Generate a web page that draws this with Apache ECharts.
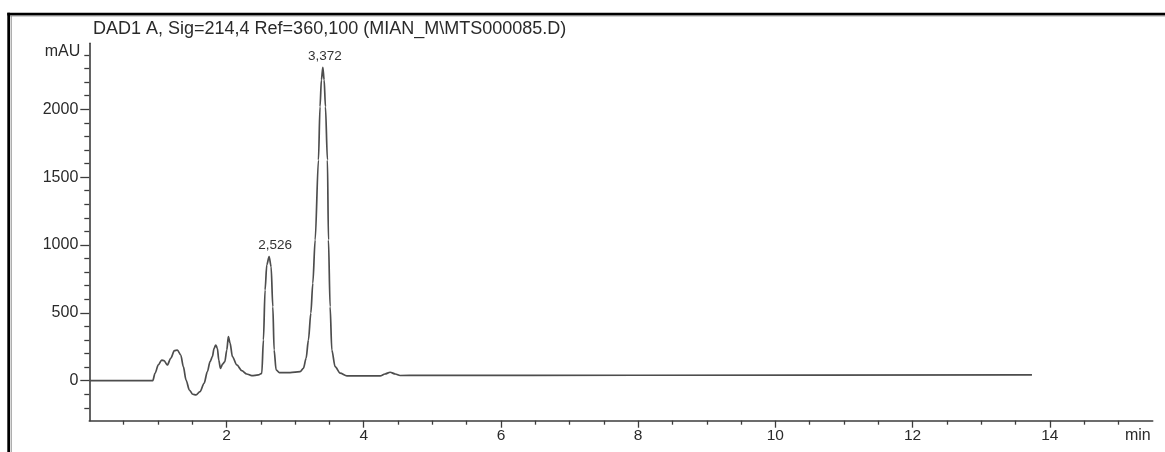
<!DOCTYPE html>
<html>
<head>
<meta charset="utf-8">
<script src="https://cdn.jsdelivr.net/npm/echarts@6/dist/echarts.min.js"></script>
<style>
html,body{margin:0;padding:0;background:#fff;}
#chart{width:1165px;height:452px;}
</style>
</head>
<body>
<div id="chart"></div>
<script>
// Retention time (min) and detector signal (mAU)
const times = [0, 0.925, 0.958, 1.006, 1.056, 1.089, 1.138, 1.187, 1.240, 1.284, 1.333, 1.371, 1.410, 1.459, 1.508, 1.556, 1.614, 1.673, 1.721, 1.760, 1.794, 1.819, 1.843, 1.867, 1.887, 1.911, 1.945, 1.975, 2.004, 2.027, 2.052, 2.086, 2.150, 2.222, 2.295, 2.368, 2.465, 2.514, 2.538, 2.562, 2.587, 2.621, 2.650, 2.675, 2.694, 2.723, 2.771, 2.927, 3.073, 3.121, 3.160, 3.194, 3.229, 3.258, 3.292, 3.340, 3.363, 3.383, 3.404, 3.423, 3.442, 3.471, 3.486, 3.510, 3.535, 3.583, 3.656, 3.754, 4.24, 4.31, 4.385, 4.46, 4.53, 4.8, 8, 13.74];
const signal = [0, 0, 54, 116, 152, 147, 116, 165, 221, 226, 189, 103, 5, -69, -100, -105, -81, -19, 66, 140, 177, 239, 263, 239, 152, 91, 123, 140, 226, 324, 276, 177, 116, 74, 49, 37, 42, 54, 300, 668, 853, 914, 840, 545, 226, 79, 59, 59, 66, 91, 165, 300, 497, 718, 1037, 1626, 2019, 2216, 2309, 2216, 2019, 1626, 1037, 545, 226, 103, 55, 35, 35, 49, 62, 49, 38, 39, 40, 42];

const titleText = 'DAD1 A, Sig=214,4 Ref=360,100 (MIAN_M\\MTS000085.D)';
const xMajorTicks = [2, 4, 6, 8, 10, 12, 14];
const xMinorTicks = [0.5, 1, 1.5, 2.5, 3, 3.5, 4.5, 5, 5.5, 6.5, 7, 7.5, 8.5, 9, 9.5, 10.5, 11, 11.5, 12.5, 13, 13.5, 14.5, 15];
const yMajorTicks = [0, 500, 1000, 1500, 2000];
const yMinorTicks = [-200, -100, 100, 200, 300, 400, 600, 700, 800, 900, 1100, 1200, 1300, 1400, 1600, 1700, 1800, 1900, 2100, 2200, 2300, 2400];
const peakLabels = ['2,526', '3,372'];
const peakWindows = [[2.4, 2.8], [3.2, 3.6]];

function apexIn(lo, hi) {
  let best = -1;
  for (let i = 0; i < times.length; i++) {
    if (times[i] >= lo && times[i] <= hi && (best < 0 || signal[i] > signal[best])) best = i;
  }
  return best;
}

const seriesData = times.map((t, i) => [t, signal[i]]);
const labelOffsets = [[6, 0], [2, 0]];
const peakMarks = peakWindows.map((w, k) => {
  const i = apexIn(w[0], w[1]);
  return { name: peakLabels[k], coord: [times[i], signal[i]], label: { offset: labelOffsets[k] } };
});

const axisColor = '#3c3c3c';
const textColor = '#2a2a2a';
const font = 'Liberation Sans, Arial, sans-serif';
const X_MIN = 0, X_MAX = 15.5, Y_MIN = -295, Y_MAX = 2486;
const plain = v => String(v);

const chart = echarts.init(document.getElementById('chart'), null, { renderer: 'canvas' });
chart.setOption({
  animation: false,
  backgroundColor: '#fff',
  title: {
    text: titleText,
    left: 88,
    top: 15,
    textStyle: { fontFamily: font, fontSize: 18, fontWeight: 'normal', color: textColor }
  },
  grid: { left: 89.3, right: 12.3, top: 43.3, bottom: 31.3 },
  xAxis: [{
    type: 'value', min: X_MIN, max: X_MAX,
    name: 'min', nameLocation: 'end', nameGap: 0,
    nameTextStyle: { fontFamily: font, fontSize: 16, color: textColor, align: 'right', verticalAlign: 'top', padding: [7, 2, 0, 0] },
    axisLine: { show: true, onZero: false, lineStyle: { color: axisColor, width: 1.6 } },
    axisTick: { show: true, length: 7, customValues: xMajorTicks, lineStyle: { color: axisColor, width: 1.3 } },
    axisLabel: { show: true, customValues: xMajorTicks, formatter: plain, margin: 7, fontFamily: font, fontSize: 15.5, color: textColor },
    splitLine: { show: false }
  }, {
    type: 'value', min: X_MIN, max: X_MAX, position: 'bottom',
    axisLine: { show: false, onZero: false },
    axisTick: { show: true, length: 4, customValues: xMinorTicks, lineStyle: { color: axisColor, width: 1.3 } },
    axisLabel: { show: false },
    splitLine: { show: false }
  }],
  yAxis: [{
    type: 'value', min: Y_MIN, max: Y_MAX,
    name: 'mAU', nameLocation: 'end', nameGap: -8,
    nameTextStyle: { fontFamily: font, fontSize: 16, color: textColor, align: 'right', verticalAlign: 'middle', padding: [0, 9, 0, 0] },
    axisLine: { show: true, onZero: false, lineStyle: { color: axisColor, width: 1.6 } },
    axisTick: { show: true, length: 9, customValues: yMajorTicks, lineStyle: { color: axisColor, width: 1.3 } },
    axisLabel: { show: true, customValues: yMajorTicks, formatter: plain, margin: 11, fontFamily: font, fontSize: 16, color: textColor },
    splitLine: { show: false }
  }, {
    type: 'value', min: Y_MIN, max: Y_MAX, position: 'left',
    axisLine: { show: false, onZero: false },
    axisTick: { show: true, length: 5, customValues: yMinorTicks, lineStyle: { color: axisColor, width: 1.3 } },
    axisLabel: { show: false },
    splitLine: { show: false }
  }],
  series: [{
    type: 'line',
    xAxisIndex: 0, yAxisIndex: 0,
    data: seriesData,
    showSymbol: false,
    smooth: 0.3,
    smoothMonotone: 'x',
    lineStyle: { color: '#4d4d4d', width: 1.7 },
    markPoint: {
      symbol: 'circle', symbolSize: 0,
      label: { show: true, position: 'top', distance: 4, formatter: '{b}', fontFamily: font, fontSize: 13.5, color: '#333' },
      data: peakMarks
    }
  }],
  graphic: [
    { type: 'rect', shape: { x: 7.3, y: 12.7, width: 1160, height: 2.7 }, style: { fill: '#000' }, silent: true },
    { type: 'rect', shape: { x: 7.3, y: 12.7, width: 2.7, height: 440 }, style: { fill: '#000' }, silent: true },
    { type: 'line', shape: { x1: 10, y1: 15.9, x2: 1165, y2: 15.9 }, style: { stroke: '#8a8a8a', lineWidth: 1 }, silent: true },
    { type: 'line', shape: { x1: 11.2, y1: 15.4, x2: 11.2, y2: 452 }, style: { stroke: '#8a8a8a', lineWidth: 1 }, silent: true }
  ]
});
</script>
</body>
</html>
